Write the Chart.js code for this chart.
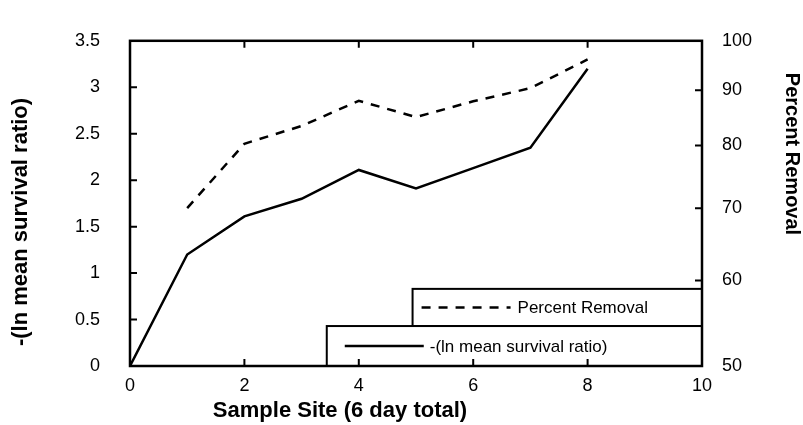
<!DOCTYPE html>
<html>
<head>
<meta charset="utf-8">
<script src="https://cdn.jsdelivr.net/npm/chart.js@4/dist/chart.umd.min.js"></script>
<style>
  html, body { margin: 0; padding: 0; background: #fff; }
</style>
</head>
<body>
<canvas id="chart" width="803" height="425"></canvas>
<script>
// values
const sites = [0, 1, 2, 3, 4, 5, 6, 7, 8];
const lnSurvival = [0, 1.2, 1.61, 1.8, 2.11, 1.91, 2.13, 2.35, 3.2];
const percentRemoval = [null, 70, 80.3, 83.4, 88, 85, 87.9, 90.4, 96.1];
const removalTicks = [50, 60, 70, 80, 90, 100];

const FONT = 'Arial, "Liberation Sans", sans-serif';
const DASH = [9, 8];

const toPoints = (ys) => sites.map((x, i) => ({ x, y: ys[i] }));

// inward tick marks, frame, stacked legend boxes and axis titles
const decorations = {
  id: 'decorations',
  afterDraw(chart) {
    const { ctx, chartArea: a, scales } = chart;
    const { x, y, y2 } = scales;
    const tick = 7;

    ctx.save();
    ctx.strokeStyle = '#000';
    ctx.fillStyle = '#000';

    // legend boxes (lower one is wider)
    const boxTop = y.getPixelForValue(0.83);
    const boxMid = y.getPixelForValue(0.43);
    const box1Left = x.getPixelForValue(4.94);
    const box2Left = x.getPixelForValue(3.44);
    ctx.lineWidth = 2;
    ctx.fillStyle = '#fff';
    ctx.fillRect(box1Left, boxTop, a.right - box1Left, boxMid - boxTop);
    ctx.strokeRect(box1Left, boxTop, a.right - box1Left, boxMid - boxTop);
    ctx.fillRect(box2Left, boxMid, a.right - box2Left, a.bottom - boxMid);
    ctx.strokeRect(box2Left, boxMid, a.right - box2Left, a.bottom - boxMid);

    ctx.fillStyle = '#000';
    ctx.lineWidth = 2.5;
    const row1 = (boxTop + boxMid) / 2;
    const row2 = (boxMid + a.bottom) / 2;
    ctx.setLineDash(DASH);
    ctx.beginPath();
    ctx.moveTo(box1Left + 9, row1);
    ctx.lineTo(box1Left + 98, row1);
    ctx.stroke();
    ctx.setLineDash([]);
    ctx.beginPath();
    ctx.moveTo(box2Left + 18, row2);
    ctx.lineTo(box2Left + 97, row2);
    ctx.stroke();

    ctx.font = '17px ' + FONT;
    ctx.textAlign = 'left';
    ctx.textBaseline = 'middle';
    ctx.fillText('Percent Removal', box1Left + 105, row1 + 1);
    ctx.fillText('-(ln mean survival ratio)', box2Left + 103, row2 + 1);

    // frame
    ctx.lineWidth = 2.5;
    ctx.strokeRect(a.left, a.top, a.right - a.left, a.bottom - a.top);

    // tick marks pointing into the plot
    ctx.lineWidth = 2;
    ctx.beginPath();
    x.ticks.forEach((t) => {
      if (t.value <= x.min || t.value >= x.max) return;
      const px = x.getPixelForValue(t.value);
      ctx.moveTo(px, a.bottom); ctx.lineTo(px, a.bottom - tick);
      ctx.moveTo(px, a.top); ctx.lineTo(px, a.top + tick);
    });
    y.ticks.forEach((t) => {
      if (t.value <= y.min || t.value >= y.max) return;
      const py = y.getPixelForValue(t.value);
      ctx.moveTo(a.left, py); ctx.lineTo(a.left + tick, py);
    });
    y2.ticks.forEach((t) => {
      if (t.value <= y2.min || t.value >= y2.max) return;
      const py = y2.getPixelForValue(t.value);
      ctx.moveTo(a.right, py); ctx.lineTo(a.right - tick, py);
    });
    ctx.stroke();

    // axis titles
    ctx.font = 'bold 22px ' + FONT;
    ctx.textAlign = 'center';
    ctx.textBaseline = 'middle';
    ctx.fillText('Sample Site (6 day total)', 340, 411);

    ctx.save();
    ctx.translate(21, 222);
    ctx.rotate(-Math.PI / 2);
    ctx.fillText('-(ln mean survival ratio)', 0, 0);
    ctx.restore();

    ctx.font = 'bold 20px ' + FONT;
    ctx.save();
    ctx.translate(792, 154);
    ctx.rotate(Math.PI / 2);
    ctx.fillText('Percent Removal', 0, 0);
    ctx.restore();

    ctx.restore();
  },
};

const tickFont = { family: FONT, size: 18 };
const noGrid = { display: false, drawTicks: false };

new Chart(document.getElementById('chart'), {
  type: 'line',
  data: {
    datasets: [
      {
        label: '-(ln mean survival ratio)',
        data: toPoints(lnSurvival),
        yAxisID: 'y',
        borderColor: '#000',
        borderWidth: 2.5,
        pointRadius: 0,
        tension: 0,
      },
      {
        label: 'Percent Removal',
        data: toPoints(percentRemoval),
        yAxisID: 'y2',
        borderColor: '#000',
        borderWidth: 2.5,
        borderDash: DASH,
        pointRadius: 0,
        tension: 0,
      },
    ],
  },
  options: {
    responsive: false,
    animation: false,
    devicePixelRatio: 1,
    layout: { padding: { top: 19, left: 0, right: 0, bottom: 0 } },
    plugins: {
      legend: { display: false },
      tooltip: { enabled: false },
    },
    scales: {
      x: {
        type: 'linear',
        min: 0,
        max: 10,
        ticks: { stepSize: 2, color: '#000', font: tickFont, padding: 9, maxRotation: 0 },
        grid: noGrid,
        border: { display: false },
        afterFit(scale) { scale.height = 59; },
      },
      y: {
        position: 'left',
        min: 0,
        max: 3.5,
        ticks: { stepSize: 0.5, color: '#000', font: tickFont, padding: 30, callback: (v) => String(v) },
        grid: noGrid,
        border: { display: false },
        afterFit(scale) { scale.width = 130; },
      },
      y2: {
        type: 'logarithmic',
        position: 'right',
        min: 50,
        max: 100,
        afterBuildTicks(scale) {
          scale.ticks = removalTicks.map((value) => ({ value }));
        },
        ticks: { color: '#000', font: tickFont, padding: 20, callback: (v) => String(v) },
        grid: noGrid,
        border: { display: false },
        afterFit(scale) { scale.width = 101; },
      },
    },
  },
  plugins: [decorations],
});
</script>
</body>
</html>
